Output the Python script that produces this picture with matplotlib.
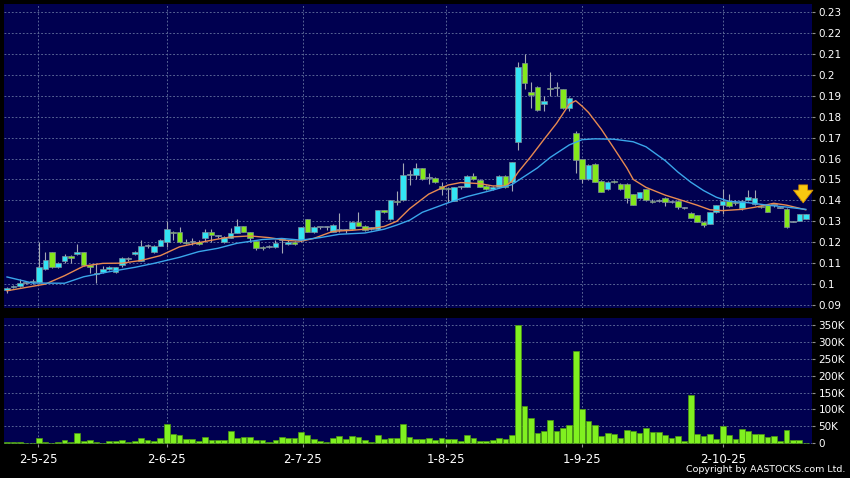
import matplotlib
matplotlib.use('Agg')
import matplotlib.pyplot as plt
import numpy as np

plt.rcParams['font.family'] = 'DejaVu Sans'

# daily candles (index 0 = first trading day shown)
open_ = [.0972, .0985, .0990, .1005, .1008, .1011, .1070, .1152, .1080, .1112,
         .1134, .1143, .1152, .1091, .1054, .1059, .1071, .1059, .1091, .1119,
         .1144, .1112, .1183, .1152, .1182, .1200, .1250, .1250, .1200, .1200,
         .1202, .1222, .1250, .1229, .1202, .1222, .1243, .1277, .1250, .1207,
         .1178, .1178, .1178, .1210, .1190, .1200, .1210, .1310, .1250, .1271,
         .1271, .1250, .1257, .1257, .1262, .1298, .1277, .1262, .1262, .1354,
         .1310, .1398, .1400, .1520, .1521, .1553, .1505, .1508, .1468, .1457,
         .1398, .1462, .1466, .1518, .1497, .1470, .1453, .1466, .1518, .1490,
         .1680, .2058, .1918, .1940, .1860, .1938, .1936, .1930, .1840, .1722,
         .1598, .1500, .1576, .1492, .1453, .1490, .1480, .1480, .1428, .1411,
         .1453, .1398, .1398, .1410, .1392, .1398, .1365, .1340, .1328, .1298,
         .1287, .1343, .1380, .1398, .1390, .1362, .1402, .1381, .1374, .1377,
         .1377, .1365, .1360, .1298, .1303, .1311]
high = [.0985, .0995, .1023, .1008, .1023, .1202, .1155, .1155, .1105, .1145,
        .1140, .1191, .1155, .1091, .1097, .1085, .1085, .1082, .1127, .1127,
        .1160, .1210, .1190, .1185, .1215, .1303, .1255, .1274, .1215, .1220,
        .1210, .1264, .1264, .1236, .1232, .1270, .1310, .1277, .1250, .1207,
        .1182, .1185, .1210, .1222, .1210, .1205, .1271, .1310, .1277, .1275,
        .1277, .1285, .1338, .1262, .1300, .1346, .1280, .1275, .1356, .1356,
        .1402, .1443, .1577, .1545, .1577, .1553, .1532, .1512, .1490, .1465,
        .1465, .1470, .1520, .1532, .1500, .1472, .1470, .1520, .1520, .1585,
        .2062, .2099, .1966, .1945, .1900, .2015, .1967, .1932, .1893, .1733,
        .1600, .1572, .1578, .1495, .1492, .1495, .1482, .1482, .1430, .1441,
        .1455, .1405, .1405, .1415, .1398, .1400, .1370, .1345, .1330, .1300,
        .1345, .1380, .1455, .1430, .1400, .1400, .1449, .1449, .1380, .1380,
        .1380, .1368, .1362, .1300, .1335, .1335]
low = [.0955, .0980, .0988, .1000, .1002, .1004, .1065, .1078, .1078, .1100,
       .1100, .1140, .1088, .1051, .1004, .1052, .1068, .1055, .1080, .1110,
       .1140, .1110, .1170, .1150, .1180, .1178, .1210, .1198, .1190, .1185,
       .1185, .1203, .1203, .1222, .1195, .1222, .1243, .1250, .1200, .1163,
       .1165, .1172, .1172, .1148, .1187, .1185, .1200, .1250, .1243, .1265,
       .1257, .1248, .1250, .1245, .1260, .1277, .1255, .1258, .1260, .1340,
       .1305, .1379, .1398, .1473, .1500, .1495, .1476, .1485, .1426, .1394,
       .1395, .1455, .1465, .1498, .1462, .1450, .1448, .1460, .1458, .1443,
       .1643, .1930, .1839, .1828, .1828, .1900, .1900, .1838, .1828, .1530,
       .1481, .1498, .1488, .1439, .1450, .1485, .1450, .1389, .1378, .1408,
       .1398, .1385, .1390, .1372, .1385, .1360, .1360, .1315, .1295, .1272,
       .1285, .1340, .1333, .1370, .1378, .1355, .1398, .1378, .1362, .1343,
       .1370, .1362, .1270, .1295, .1300, .1310]
close = [.0983, .0990, .1004, .1005, .1016, .1080, .1115, .1080, .1099, .1134,
         .1124, .1152, .1091, .1080, .1050, .1071, .1080, .1080, .1123, .1119,
         .1155, .1182, .1183, .1182, .1210, .1262, .1243, .1200, .1195, .1200,
         .1190, .1250, .1234, .1229, .1226, .1243, .1277, .1250, .1222, .1171,
         .1171, .1178, .1198, .1210, .1200, .1190, .1271, .1250, .1271, .1271,
         .1271, .1281, .1257, .1257, .1298, .1277, .1257, .1271, .1354, .1343,
         .1400, .1393, .1521, .1520, .1553, .1500, .1505, .1490, .1453, .1455,
         .1462, .1462, .1518, .1500, .1466, .1453, .1466, .1518, .1462, .1582,
         .2035, .1959, .1903, .1832, .1876, .1930, .1936, .1840, .1891, .1593,
         .1500, .1570, .1490, .1441, .1490, .1488, .1453, .1410, .1380, .1439,
         .1400, .1394, .1398, .1391, .1392, .1370, .1365, .1318, .1298, .1282,
         .1343, .1377, .1398, .1372, .1386, .1397, .1418, .1410, .1368, .1346,
         .1377, .1365, .1273, .1298, .1333, .1333]

# volume in thousands of shares
vol_k = [3, 3, 3, 1, 0.5, 15, 5, 1, 3, 10,
         3, 31, 7, 10, 4, 1, 6, 6, 11, 5,
         8, 15, 11, 7, 16, 57, 28, 25, 13, 13,
         7, 19, 10, 10, 10, 37, 16, 18, 18, 11,
         11, 3, 9, 20, 15, 16, 34, 24, 12, 7,
         5, 16, 22, 14, 22, 20, 10, 5, 24, 14,
         16, 15, 57, 20, 14, 14, 17, 11, 15, 13,
         13, 7, 25, 15, 7, 7, 11, 17, 13, 25,
         350, 111, 76, 31, 35, 69, 35, 46, 55, 273,
         101, 65, 55, 23, 31, 29, 15, 38, 36, 31,
         46, 33, 33, 26, 17, 23, 8, 143, 29, 23,
         29, 13, 50, 25, 13, 41, 36, 27, 27, 19,
         23, 6, 38, 11, 9, 0]

# moving averages
ma10_idx = [0, 6, 9, 12, 15, 18, 21, 24, 27, 30, 33, 35, 38, 41, 44, 46, 48, 51,
            54, 57, 59, 61, 63, 66, 69, 71, 74, 76, 78, 79, 80, 82, 84, 86, 88,
            89, 90, 91, 93, 95, 97, 98, 100, 103, 105, 108, 110, 112, 115, 117,
            120, 122, 125]
ma10_val = [.0968, .1000, .1040, .1086, .1099, .1100, .1113, .1136, .1178, .1198,
            .1215, .1225, .1230, .1222, .1208, .1205, .1218, .1252, .1257, .1265,
            .1275, .1300, .1360, .1430, .1473, .1485, .1480, .1469, .1469, .1490,
            .1535, .1610, .1690, .1768, .1860, .1876, .1850, .1820, .1740, .1648,
            .1555, .1500, .1462, .1425, .1406, .1377, .1355, .1351, .1357, .1367,
            .1386, .1377, .1355]
ma20_idx = [0, 4, 9, 12, 16, 20, 23, 27, 30, 33, 36, 40, 43, 46, 49, 52, 56, 59,
            61, 63, 65, 69, 72, 76, 79, 81, 83, 85, 88, 90, 92, 95, 98, 100, 103,
            105, 107, 109, 111, 113, 116, 119, 122, 125]
ma20_val = [.1034, .1005, .1004, .1035, .1059, .1080, .1099, .1128, .1155, .1171,
            .1195, .1213, .1218, .1210, .1222, .1238, .1244, .1262, .1282, .1305,
            .1343, .1388, .1418, .1449, .1475, .1515, .1555, .1605, .1665, .1690,
            .1694, .1692, .1680, .1656, .1590, .1535, .1487, .1447, .1415, .1395,
            .1389, .1377, .1368, .1357]

date_pos = [4.9, 25, 46.3, 68.7, 90, 112.1]
date_labels = ['2-5-25', '2-6-25', '2-7-25', '1-8-25', '1-9-25', '2-10-25']
price_ticks = np.arange(0.09, 0.2301, 0.01)
vol_ticks = [0, 50, 100, 150, 200, 250, 300, 350]

BG = '#000050'
GRID = '#65739f'
UP = '#33e4f4'
DOWN = '#84e81c'
FLAT = '#a8c4cc'

o = np.array(open_)
h = np.array(high)
l = np.array(low)
c = np.array(close)
x = np.arange(len(o))

fig = plt.figure(figsize=(8.5, 4.78), dpi=100, facecolor='black')
ax = fig.add_axes([4 / 850, 1 - 308 / 478, 807.7 / 850, 304 / 478])
axv = fig.add_axes([4 / 850, 1 - 444 / 478, 807.7 / 850, 126 / 478])

for a in (ax, axv):
    a.set_facecolor(BG)
    for s in a.spines.values():
        s.set_visible(False)
    a.set_xlim(-0.47, 125.93)
    a.yaxis.tick_right()
    a.set_xticks(date_pos)
    a.grid(True, color=GRID, linestyle=(0, (2.2, 2.2)), linewidth=0.6)
    a.set_axisbelow(True)
    a.tick_params(axis='y', colors='#909090', labelcolor='white', length=2.5,
                  pad=2.5, labelsize=7.5)

# candles
cols = np.where(c > o + 1e-6, UP, np.where(c < o - 1e-6, DOWN, FLAT))
ax.vlines(x, l, h, color='#a4a8b4', linewidth=0.8, zorder=2)
body_lo = np.minimum(o, c)
body_h = np.maximum(np.abs(c - o), 0.0005)
ax.bar(x, body_h, bottom=body_lo, width=0.88, color=cols,
       edgecolor='#7c8c98', linewidth=0.5, zorder=3)

ax.plot(ma10_idx, ma10_val, color='#e88a50', linewidth=1.0, zorder=4)
ax.plot(ma20_idx, ma20_val, color='#3aa6ea', linewidth=1.0, zorder=4)

ax.set_ylim(0.08857, 0.23382)
ax.set_yticks(price_ticks)
ax.set_yticklabels([f'{round(v, 2):g}' for v in price_ticks])
ax.tick_params(axis='x', length=0, labelbottom=False)

# marker on the latest candle
last = len(o) - 1
ax.annotate('', xy=(last - 0.4, h[last] + 0.0040), xytext=(last - 0.4, h[last] + 0.0152),
            arrowprops=dict(arrowstyle='simple,head_length=0.65,head_width=1.0,tail_width=0.45',
                            fc='#f8c810', ec='#d89000', lw=0.6, mutation_scale=14),
            zorder=6)

# volume
axv.bar(x, vol_k, width=0.9, color='#80f020', edgecolor='#4c9a10',
        linewidth=0.5, zorder=3)
axv.set_ylim(-2, 370)
axv.set_yticks(vol_ticks)
axv.set_yticklabels(['0'] + [f'{v}K' for v in vol_ticks[1:]])
axv.set_xticklabels(date_labels)
axv.tick_params(axis='x', colors='#909090', labelcolor='white', length=2.5,
                pad=4, labelsize=8.5)

fig.text(0.995, 0.009, 'Copyright by AASTOCKS.com Ltd.', color='white',
         ha='right', va='bottom', fontsize=6.8)

fig.savefig('out.png', dpi=100, facecolor='black')
